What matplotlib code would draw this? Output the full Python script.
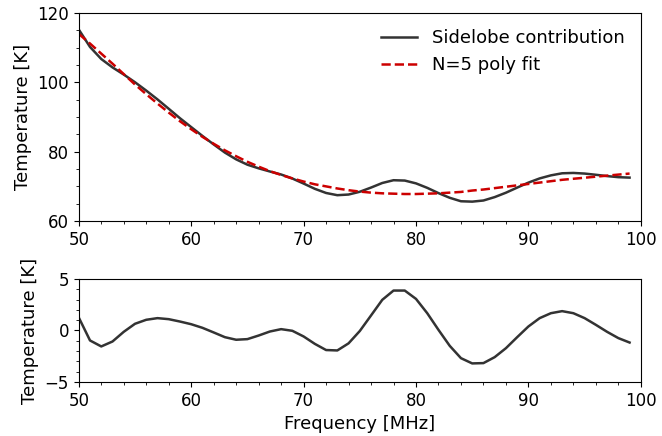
import numpy as np
import matplotlib
matplotlib.use("Agg")
import matplotlib.pyplot as plt
from matplotlib.ticker import MultipleLocator

# frequency grid (MHz)
freq = list(range(50, 100))

# N=5 polynomial fit (K)
fit = [114.0, 111.2, 108.3, 105.4, 102.4, 99.4, 96.6, 93.9, 91.3, 88.8,
       86.5, 84.3, 82.3, 80.4, 78.7, 77.1, 75.7, 74.4, 73.3, 72.3,
       71.4, 70.6, 70.0, 69.4, 68.9, 68.5, 68.2, 68.0, 67.9, 67.8,
       67.8, 67.9, 68.0, 68.2, 68.4, 68.8, 69.1, 69.5, 69.9, 70.3,
       70.7, 71.1, 71.5, 71.9, 72.2, 72.5, 72.8, 73.1, 73.4, 73.7]

# sidelobe contribution (K)
sidelobe = [115.26, 110.23, 106.75, 104.33, 102.27, 100.05, 97.64, 95.1, 92.4, 89.67,
            87.11, 84.56, 82.11, 79.75, 77.8, 76.26, 75.21, 74.3, 73.43, 72.27,
            70.82, 69.3, 68.1, 67.46, 67.65, 68.45, 69.66, 70.98, 71.78, 71.68,
            70.87, 69.58, 68.06, 66.71, 65.71, 65.6, 65.93, 66.91, 68.18, 69.65,
            71.09, 72.3, 73.18, 73.78, 73.88, 73.7, 73.35, 72.97, 72.66, 72.53]

# residual (K)
resid = [1.26, -0.97, -1.55, -1.07, -0.13, 0.65, 1.04, 1.2, 1.1, 0.87,
         0.61, 0.26, -0.19, -0.65, -0.9, -0.84, -0.49, -0.1, 0.13, -0.03,
         -0.58, -1.3, -1.9, -1.94, -1.25, -0.05, 1.46, 2.98, 3.88, 3.88,
         3.07, 1.68, 0.06, -1.49, -2.69, -3.2, -3.17, -2.59, -1.72, -0.65,
         0.39, 1.2, 1.68, 1.88, 1.68, 1.2, 0.55, -0.13, -0.74, -1.17]

plt.rcParams['font.size'] = 12
plt.rcParams['axes.labelsize'] = 13

fig = plt.figure(figsize=(6.62, 4.36), dpi=100)
ax1 = fig.add_axes([0.119, 0.493, 0.849, 0.477])
ax2 = fig.add_axes([0.119, 0.124, 0.849, 0.236])

ax1.plot(freq, sidelobe, '-', color='#333333', lw=1.8, label='Sidelobe contribution')
ax1.plot(freq, fit, '--', color='#cc0000', lw=1.8, label='N=5 poly fit')
ax1.set_xlim(50, 100)
ax1.set_ylim(60, 120)
ax1.set_ylabel('Temperature [K]')
ax1.xaxis.set_major_locator(MultipleLocator(10))
ax1.xaxis.set_minor_locator(MultipleLocator(2))
ax1.yaxis.set_major_locator(MultipleLocator(20))
ax1.yaxis.set_minor_locator(MultipleLocator(5))
ax1.legend(loc='upper right', frameon=False, fontsize=13)

ax2.plot(freq, resid, '-', color='#333333', lw=1.8)
ax2.set_xlim(50, 100)
ax2.set_ylim(-5, 5)
ax2.set_xlabel('Frequency [MHz]')
ax2.set_ylabel('Temperature [K]')
ax2.xaxis.set_major_locator(MultipleLocator(10))
ax2.xaxis.set_minor_locator(MultipleLocator(2))
ax2.yaxis.set_major_locator(MultipleLocator(5))
ax2.yaxis.set_minor_locator(MultipleLocator(1))

fig.savefig('out.png', dpi=100)
